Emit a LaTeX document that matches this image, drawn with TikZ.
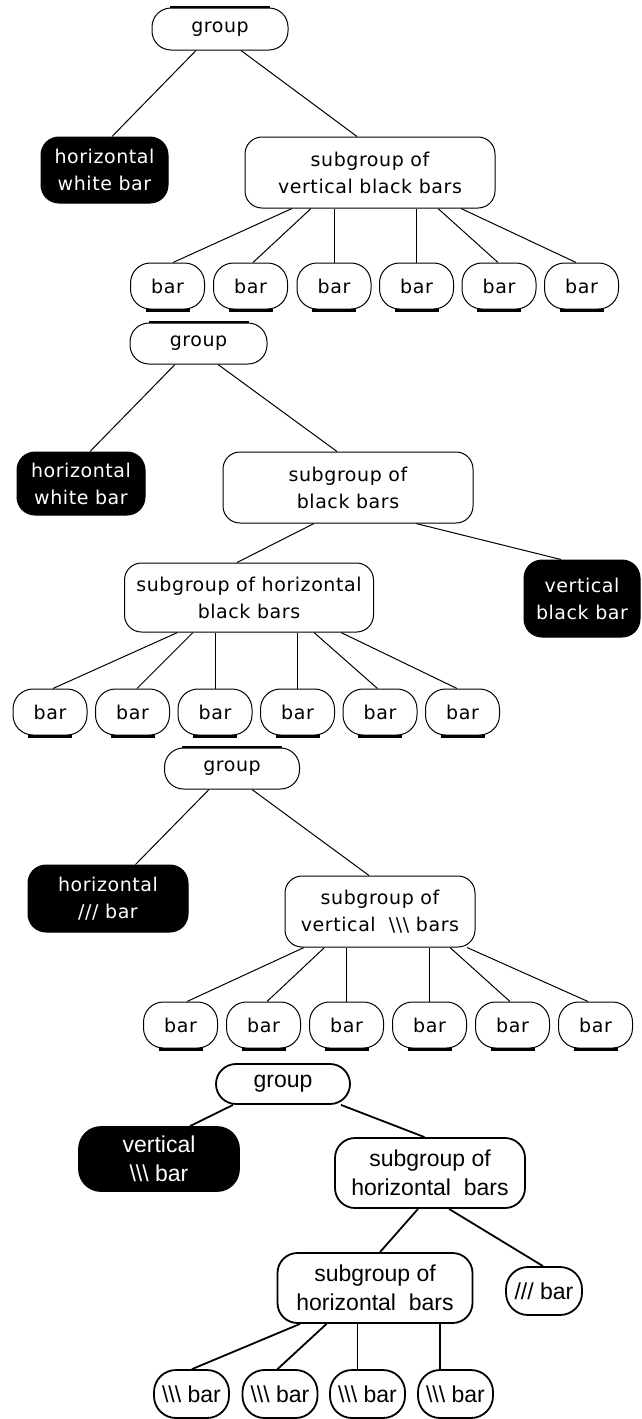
\documentclass[tikz,border=0pt]{standalone}
\usepackage{fontspec}
\newfontfamily\pixfont[LetterSpace=3]{DejaVu Sans}
\newfontfamily\helvfont{Liberation Sans}
\usetikzlibrary{backgrounds}

\newcommand{\bsl}{\textbackslash\textbackslash\textbackslash}

\tikzset{
  oldbox/.style={draw, line width=1pt, fill=white, rounded corners=17pt, inner sep=0pt,
    align=center, font=\pixfont\fontsize{19}{27}\selectfont},
  oldleaf/.style={oldbox, minimum width=74pt, minimum height=46pt, rounded corners=20pt},
  oldblack/.style={oldbox, fill=black, text=white, rounded corners=18pt},
  newbox/.style={draw, line width=1.8pt, fill=white, rounded corners=20pt, inner sep=0pt,
    align=center, font=\helvfont\fontsize{23}{29}\selectfont},
  newleaf/.style={newbox, minimum width=75pt, minimum height=48pt, rounded corners=22pt},
  newblack/.style={newbox, fill=black, text=white, rounded corners=22pt},
  oldlink/.style={line width=1pt},
  newlink/.style={line width=1.8pt},
  bottomrim/.style={line width=3pt},
  toprim/.style={line width=2.5pt},
}

\begin{document}
\begin{tikzpicture}[x=1pt,y=-1pt]
\useasboundingbox (0,0) rectangle (641,1419);

% ---------- tree 1 ----------
\node[oldbox, minimum width=136pt, minimum height=42pt, rounded corners=19pt] (g1) at (220,29) {group};
\node[oldblack, minimum width=127pt, minimum height=66pt] (hw1) at (104.5,170) {horizontal\\white bar};
\node[oldbox, minimum width=250pt, minimum height=71pt] (s1) at (370,172.5) {subgroup of\\vertical black bars};
\foreach \i/\x in {1/167.5,2/250.5,3/334,4/416.5,5/499,6/581.5}
  \node[oldleaf] (a\i) at (\x,286) {bar};

% ---------- tree 2 ----------
\node[oldbox, minimum width=137pt, minimum height=41pt, rounded corners=19pt] (g2) at (198.5,343.5) {group};
\node[oldblack, minimum width=128pt, minimum height=63pt] (hw2) at (81,483.5) {horizontal\\white bar};
\node[oldbox, minimum width=250pt, minimum height=71pt] (s2) at (348,487.5) {subgroup of\\black bars};
\node[oldbox, minimum width=249pt, minimum height=69pt] (sh2) at (249,597.5) {subgroup of horizontal\\black bars};
\node[oldblack, minimum width=116pt, minimum height=77pt] (vb2) at (582,598.5) {vertical\\black bar};
\foreach \i/\x in {1/50,2/132.5,3/215,4/297.5,5/380,6/462.5}
  \node[oldleaf] (c\i) at (\x,712) {bar};

% ---------- tree 3 ----------
\node[oldbox, minimum width=135pt, minimum height=41pt, rounded corners=19pt] (g3) at (232,768.5) {group};
\node[oldblack, minimum width=160pt, minimum height=67pt] (hw3) at (108,898.5) {horizontal\\/// bar};
\node[oldbox, minimum width=190pt, minimum height=71pt] (s3) at (380,911.5) {subgroup of\\vertical\ \ \bsl{} bars};
\foreach \i/\x in {1/180.5,2/263.5,3/346.5,4/429.5,5/512.5,6/595.5}
  \node[oldleaf] (e\i) at (\x,1025) {bar};

% ---------- tree 4 ----------
\node[newbox, minimum width=134pt, minimum height=40pt] (g4) at (283,1084) {group};
\node[newblack, minimum width=160pt, minimum height=64pt] (vb4) at (159,1159) {vertical\\\bsl{} bar};
\node[newbox, minimum width=190pt, minimum height=70pt] (s4) at (430,1173) {subgroup of\\horizontal\ \ bars};
\node[newbox, minimum width=195pt, minimum height=70pt] (l4) at (375,1288) {subgroup of\\horizontal\ \ bars};
\node[newleaf, minimum width=76pt] (sl4) at (544,1291) {/// bar};
\foreach \i/\x in {1/191.5,2/280,3/367.5,4/455.5}
  \node[newleaf] (f\i) at (\x,1394) {\bsl{} bar};

\begin{pgfonlayer}{background}
  % tree 1 links
  \draw[oldlink] ([xshift=-24pt]g1.south) -- ([xshift=7.5pt]hw1.north);
  \draw[oldlink] ([xshift=21pt]g1.south) -- ([xshift=-13pt]s1.north);
  \draw[oldlink] ([xshift=-78pt]s1.south) -- ([xshift=5.5pt]a1.north);
  \draw[oldlink] ([xshift=-59pt]s1.south) -- ([xshift=2.5pt]a2.north);
  \draw[oldlink] (a3.north) -- (a3.north |- s1.south);
  \draw[oldlink] (a4.north) -- (a4.north |- s1.south);
  \draw[oldlink] ([xshift=68pt]s1.south) -- ([xshift=-1pt]a5.north);
  \draw[oldlink] ([xshift=91pt]s1.south) -- ([xshift=-5.5pt]a6.north);
  % tree 2 links
  \draw[oldlink] ([xshift=-23.5pt]g2.south) -- ([xshift=9pt]hw2.north);
  \draw[oldlink] ([xshift=19.5pt]g2.south) -- ([xshift=-11pt]s2.north);
  \draw[oldlink] ([xshift=-34pt]s2.south) -- ([xshift=-12pt]sh2.north);
  \draw[oldlink] ([xshift=68pt]s2.south) -- ([xshift=-21pt]vb2.north);
  \draw[oldlink] ([xshift=-71.5pt]sh2.south) -- ([xshift=3pt]c1.north);
  \draw[oldlink] ([xshift=-56pt]sh2.south) -- ([xshift=4.5pt]c2.north);
  \draw[oldlink] (c3.north) -- (c3.north |- sh2.south);
  \draw[oldlink] (c4.north) -- (c4.north |- sh2.south);
  \draw[oldlink] ([xshift=65pt]sh2.south) -- ([xshift=-2.5pt]c5.north);
  \draw[oldlink] ([xshift=92pt]sh2.south) -- ([xshift=-5.5pt]c6.north);
  % tree 3 links
  \draw[oldlink] ([xshift=-23pt]g3.south) -- ([xshift=27.5pt]hw3.north);
  \draw[oldlink] ([xshift=20pt]g3.south) -- ([xshift=-11pt]s3.north);
  \draw[oldlink] ([xshift=-76pt]s3.south) -- ([xshift=6.5pt]e1.north);
  \draw[oldlink] ([xshift=-55.5pt]s3.south) -- ([xshift=3.5pt]e2.north);
  \draw[oldlink] (e3.north) -- (e3.north |- s3.south);
  \draw[oldlink] (e4.north) -- (e4.north |- s3.south);
  \draw[oldlink] ([xshift=70pt]s3.south) -- ([xshift=-2.5pt]e5.north);
  \draw[oldlink] ([xshift=87pt]s3.south) -- ([xshift=-7.5pt]e6.north);
  % tree 4 links
  \draw[newlink] ([xshift=-50pt]g4.south) -- ([xshift=31pt]vb4.north);
  \draw[newlink] ([xshift=58pt]g4.south) -- ([xshift=-5.5pt]s4.north);
  \draw[newlink] ([xshift=-12pt]s4.south) -- ([xshift=5pt]l4.north);
  \draw[newlink] ([xshift=19pt]s4.south) -- ([xshift=-1pt]sl4.north);
  \draw[newlink] ([xshift=-75pt]l4.south) -- ([xshift=0.5pt]f1.north);
  \draw[newlink] ([xshift=-48.5pt]l4.south) -- ([xshift=-2.5pt]f2.north);
  \draw[newlink] ([xshift=-10pt]f3.north) -- ([xshift=-10pt]f3.north |- l4.south);
  \draw[newlink] ([xshift=-15.5pt]f4.north) -- ([xshift=-15.5pt]f4.north |- l4.south);
\end{pgfonlayer}

% heavy rims of the old-style boxes
\foreach \n in {g1,g2,g3}
  \draw[toprim] ([xshift=-50pt,yshift=0.5pt]\n.north) -- ([xshift=50pt,yshift=0.5pt]\n.north);
\foreach \n in {a1,a2,a3,a4,a5,a6,c1,c2,c3,c4,c5,c6,e1,e2,e3,e4,e5,e6}
  \draw[bottomrim] ([xshift=-22pt,yshift=-1pt]\n.south) -- ([xshift=22pt,yshift=-1pt]\n.south);
\end{tikzpicture}
\end{document}
